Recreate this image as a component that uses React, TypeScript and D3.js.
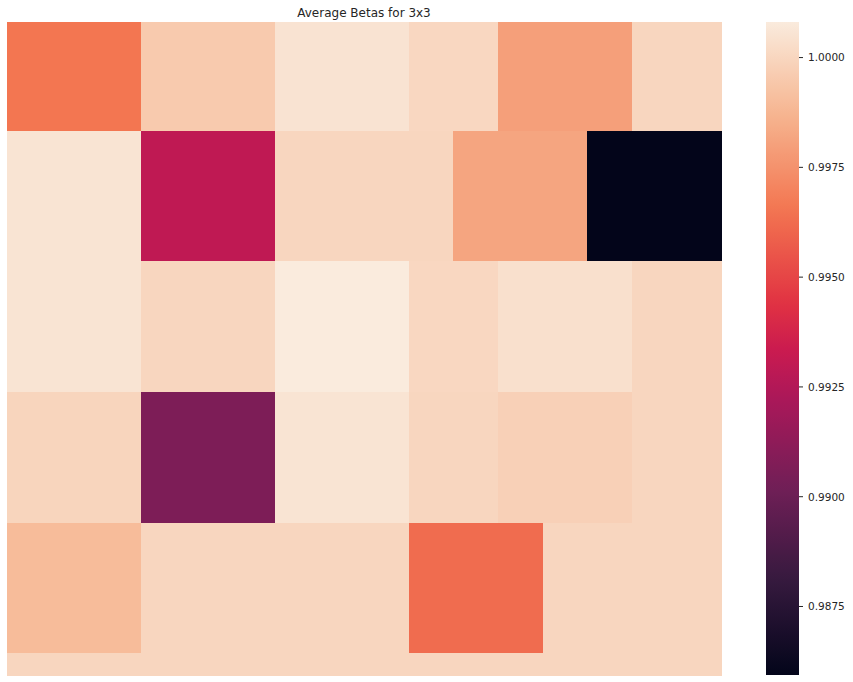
import React from "react";
import * as d3 from "d3";

const width = 853;
const height = 682;

// heatmap cell values, 16 columns per row
const rowA = [0.99656, 0.99656, 0.99656, 0.99953, 0.99953, 0.99953, 1.0005, 1.0005, 1.0005, 1.00005, 1.00005, 0.99796, 0.99796, 0.99796, 1.0, 1.0];
const rowB = [1.00054, 1.00054, 1.00054, 0.99297, 0.99297, 0.99297, 1.0, 1.0, 1.0, 1.0, 0.99817, 0.99817, 0.99817, 0.98594, 0.98594, 0.98594];
const rowC = [1.00054, 1.00054, 1.00054, 1.0, 1.0, 1.0, 1.00081, 1.00081, 1.00081, 1.00005, 1.00005, 1.00038, 1.00038, 1.00038, 1.0, 1.0];
const rowD = [0.99995, 0.99995, 0.99995, 0.99064, 0.99064, 0.99064, 1.00054, 1.00054, 1.00054, 1.0, 1.0, 0.99977, 0.99977, 0.99977, 1.0, 1.0];
const rowE = [0.99899, 0.99899, 0.99899, 0.99998, 0.99998, 0.99998, 1.0, 1.0, 1.0, 0.99625, 0.99625, 0.99625, 1.0, 1.0, 1.0, 1.0];
const rowF = [1.0, 1.0, 1.0, 1.0, 1.0, 1.0, 1.0, 1.0, 1.0, 1.0, 1.0, 1.0, 1.0, 1.0, 1.0, 1.0];

const matrix = [
  rowA, rowA, rowA, rowA, rowA,
  rowB, rowB, rowB, rowB, rowB, rowB,
  rowC, rowC, rowC, rowC, rowC, rowC,
  rowD, rowD, rowD, rowD, rowD, rowD,
  rowE, rowE, rowE, rowE, rowE, rowE,
  rowF,
];

const colorbarTicks = [0.9875, 0.99, 0.9925, 0.995, 0.9975, 1.0];

// seaborn "rocket" approximated by a few stops
const rocketStops = [0, 0.143, 0.286, 0.429, 0.5, 0.571, 0.714, 0.857, 1];
const rocketColors = ["#03051a", "#35193e", "#701f57", "#ad1759", "#cb1b4f", "#e13342", "#f37651", "#f6b48f", "#faebdd"];

const App = () => {
  const margin = { top: 22, left: 7 };
  const mapW = 714;
  const mapH = 653;
  const barX = 766;
  const barW = 33;

  const nRows = matrix.length;
  const nCols = matrix[0].length;

  const vmin = d3.min(matrix, (r) => d3.min(r));
  const vmax = d3.max(matrix, (r) => d3.max(r));

  const rocket = d3
    .scaleLinear<string>()
    .domain(rocketStops)
    .range(rocketColors)
    .interpolate(d3.interpolateRgb);

  const norm = d3.scaleLinear().domain([vmin, vmax]).range([0, 1]).clamp(true);

  const xScale = d3.scaleBand().domain(d3.range(nCols)).range([margin.left, margin.left + mapW]);
  const yScale = d3.scaleBand().domain(d3.range(nRows)).range([margin.top, margin.top + mapH]);

  const barScale = d3.scaleLinear().domain([vmin, vmax]).range([margin.top + mapH, margin.top]);

  const cells = [];
  matrix.forEach((row, i) => {
    row.forEach((v, j) => {
      cells.push({ i, j, v });
    });
  });

  return (
    <svg
      width={width}
      height={height}
      style={{ position: "absolute", left: 0, top: 0, background: "#fff" }}
      fontFamily="DejaVu Sans"
    >
      <defs>
        <linearGradient id="rocketGrad" x1="0" y1="1" x2="0" y2="0">
          {d3.range(0, 1.0001, 0.02).map((t) => (
            <stop key={t} offset={t} stopColor={rocket(t)} />
          ))}
        </linearGradient>
      </defs>

      <text x={margin.left + mapW / 2} y={17} textAnchor="middle" fontSize={12} fill="#262626">
        Average Betas for 3x3
      </text>

      <g shapeRendering="crispEdges">
        {cells.map((c) => (
          <rect
            key={c.i + "-" + c.j}
            x={xScale(c.j)}
            y={yScale(c.i)}
            width={xScale.bandwidth() + 0.5}
            height={yScale.bandwidth() + 0.5}
            fill={rocket(norm(c.v))}
          />
        ))}
      </g>

      <rect x={barX} y={margin.top} width={barW} height={mapH} fill="url(#rocketGrad)" />
      {colorbarTicks.map((t) => (
        <g key={t} transform={`translate(${barX + barW},${barScale(t)})`}>
          <line x1={0} x2={4} stroke="#262626" strokeWidth={1} />
          <text x={9} y={3.8} fontSize={10.5} fill="#262626">
            {d3.format(".4f")(t)}
          </text>
        </g>
      ))}
    </svg>
  );
};

export default App;
